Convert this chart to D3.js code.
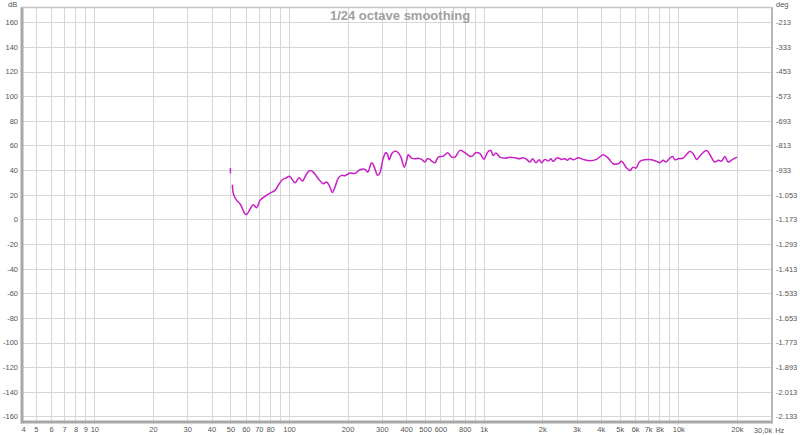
<!DOCTYPE html>
<html>
<head>
<meta charset="utf-8">
<script src="https://cdn.jsdelivr.net/npm/d3@7"></script>
<style>
  html, body { margin: 0; padding: 0; background: #ffffff; }
  svg { display: block; font-family: "Liberation Sans", Arial, sans-serif; }
</style>
</head>
<body>
<svg id="chart" width="800" height="435"></svg>
<script>
// ---- data ----
const title = "1/24 octave smoothing";
const xMin = 4.25, xMax = 30300;
const yMin = -164.5, yMax = 172;

const xGridValues = [5,6,7,8,9,10,20,30,40,50,60,70,80,90,100,200,300,400,500,600,700,800,900,
  1000,2000,3000,4000,5000,6000,7000,8000,9000,10000,20000];
const xTickValues = [4.25,5,6,7,8,9,10,20,30,40,50,60,70,80,100,200,300,400,500,600,800,
  1000,2000,3000,4000,5000,6000,7000,8000,10000,20000];
const xTickLabels = ["4","5","6","7","8","9","10","20","30","40","50","60","70","80","100","200","300","400","500","600","800",
  "1k","2k","3k","4k","5k","6k","7k","8k","10k","20k"];
const xLastTick = 30000, xLastLabel = "30,0k", xUnit = "Hz";

const yTickValues = [160,140,120,100,80,60,40,20,0,-20,-40,-60,-80,-100,-120,-140,-160];
const degTickLabels = ["-213","-333","-453","-573","-693","-813","-933","-1.053","-1.173","-1.293","-1.413",
  "-1.533","-1.653","-1.773","-1.893","-2.013","-2.133"];

// short isolated segment at 50 Hz
const seriesStart = [[50.0, 41.8], [50.05, 37.3]];
// main SPL curve (Hz, dB)
const seriesFreq = [51.2,51.8,53.9,56.0,57.2,59.4,60.6,63.0,65.5,68.2,71.0,75.3,79.9,84.8,88.1,92.4,97.3,100.3,103.2,107.4,
  112.6,117.1,123.3,128.2,133.3,141.4,150.1,156.2,162.4,166.9,172.3,179.2,186.6,193.9,205.8,218.3,231.6,245.7,253.7,266,
  274.3,285.5,293.4,302.9,313.8,319.8,327.5,337,350.4,364.3,376,391,402.3,410,426.8,443.8,461.4,480.3,499.4,513.2,
  530,540.7,562.2,584.6,620.2,653.3,684.9,712.2,755.6,801.5,850.4,873.8,909.7,957.2,1004,1056,1090,1120,1157,1213,
  1287,1365,1448,1523,1597,1663,1729,1785,1856,1930,1986,2065,2147,2216,2277,2388,2515,2616,2688,2775,
  2886,3062,3248,3516,3805,4115,4365,4631,4913,5115,5382,5642,5867,6057,6351,6739,7295,7738,8043,8362,
  8636,8981,9348,9605,9988,10598,11032,11470,11928,12417,13064,13975,14534,15417,16030,16688,17355,18045,19009,20070];
const seriesDb = [28.1,20.8,15.4,12.7,10.0,4.6,4.0,8.1,11.9,9.5,15.4,18.7,21.3,23.5,27.6,32.2,33.8,35.1,33.0,29.7,
  33.8,31.1,37.1,39.7,38.4,33.0,29.0,30.3,26.2,21.7,26.2,33.5,35.7,35.4,37.6,37.3,40.3,40.6,38.4,46.0,
  42.4,35.7,37.9,47.9,54.1,53.3,48.4,53.3,55.4,54.1,50.5,42.4,47.9,52.5,49.7,49.2,49.7,48.7,46.5,49.2,
  48.7,47.3,46.0,50.5,51.3,54.1,50.5,50.5,56.0,54.1,51.3,51.3,54.1,53.3,48.9,55.2,55.7,51.9,53.8,50.5,
  49.7,50.5,50.0,49.2,50.0,48.7,46.5,49.2,46.0,48.4,46.0,48.7,47.3,49.2,47.1,50.0,48.7,49.2,47.9,49.7,
  48.4,50.0,48.7,47.6,48.7,52.5,49.7,45.2,45.2,47.1,42.4,39.7,42.4,41.6,47.1,48.4,48.4,47.1,46.0,47.9,
  46.5,49.2,51.1,48.4,49.2,49.7,52.7,55.2,53.3,48.7,52.5,56.0,52.5,46.5,47.9,47.3,51.1,46.5,48.7,50.5];

// ---- drawing ----
const W = 800, H = 435;
const plot = { left: 22, right: 772, top: 7.5, bottom: 422 };
const svg = d3.select("#chart");
svg.append("rect").attr("width", W).attr("height", H).attr("fill", "#ffffff");

const x = d3.scaleLog().domain([xMin, xMax]).range([plot.left, plot.right]);
const y = d3.scaleLinear().domain([yMin, yMax]).range([plot.bottom, plot.top]);

const gridColor = "#d6d6d6";
const labelColor = "#555555";
const fontFam = "Liberation Sans, Arial, sans-serif";

// vertical grid
svg.append("g").selectAll("line").data(xGridValues).join("line")
  .attr("x1", d => Math.round(x(d)) + 0.5).attr("x2", d => Math.round(x(d)) + 0.5)
  .attr("y1", plot.top).attr("y2", plot.bottom)
  .attr("stroke", gridColor).attr("stroke-width", 1);

// horizontal grid
svg.append("g").selectAll("line").data(yTickValues).join("line")
  .attr("x1", plot.left).attr("x2", plot.right)
  .attr("y1", d => Math.round(y(d)) + 0.5).attr("y2", d => Math.round(y(d)) + 0.5)
  .attr("stroke", gridColor).attr("stroke-width", 1);

// border
svg.append("rect")
  .attr("x", plot.left).attr("y", plot.top)
  .attr("width", plot.right - plot.left).attr("height", plot.bottom - plot.top)
  .attr("fill", "none").attr("stroke", "#c4c4c4").attr("stroke-width", 1.5);
svg.append("line").attr("x1", plot.left).attr("x2", plot.left)
  .attr("y1", plot.top).attr("y2", plot.bottom + 1.5)
  .attr("stroke", "#a8a8a8").attr("stroke-width", 3);
svg.append("line").attr("x1", plot.left).attr("x2", plot.right + 1)
  .attr("y1", plot.bottom).attr("y2", plot.bottom)
  .attr("stroke", "#a8a8a8").attr("stroke-width", 3);
svg.append("line").attr("x1", plot.right).attr("x2", plot.right)
  .attr("y1", plot.top).attr("y2", plot.bottom)
  .attr("stroke", "#b8b8b8").attr("stroke-width", 2);

// left axis labels (dB)
const yAxisL = d3.axisLeft(y).tickValues(yTickValues).tickSize(0).tickPadding(3).tickFormat(d => String(d));
const gL = svg.append("g").attr("transform", `translate(${plot.left - 1},0)`).call(yAxisL);
gL.select(".domain").remove();
gL.selectAll("text").attr("font-size", 7.5).attr("fill", labelColor).attr("font-family", fontFam);

// right axis labels (deg)
const yAxisR = d3.axisRight(y).tickValues(yTickValues).tickSize(0).tickPadding(3)
  .tickFormat(d => degTickLabels[yTickValues.indexOf(d)]);
const gR = svg.append("g").attr("transform", `translate(${plot.right + 1},0)`).call(yAxisR);
gR.select(".domain").remove();
gR.selectAll("text").attr("font-size", 7.5).attr("fill", labelColor).attr("font-family", fontFam);

// bottom axis labels
const xAxis = d3.axisBottom(x).tickValues(xTickValues).tickSize(0).tickPadding(5)
  .tickFormat(d => xTickLabels[xTickValues.indexOf(d)]);
const gB = svg.append("g").attr("transform", `translate(0,${plot.bottom})`).call(xAxis);
gB.select(".domain").remove();
gB.selectAll("text").attr("font-size", 7.5).attr("fill", labelColor).attr("font-family", fontFam);
gB.selectAll(".tick").filter(d => d === xMin).select("text").attr("text-anchor", "start").attr("dx", -1);

svg.append("text").attr("x", x(xLastTick) + 1).attr("y", plot.bottom + 10.5)
  .attr("text-anchor", "end").attr("font-size", 7.5).attr("fill", labelColor)
  .attr("font-family", fontFam).text(xLastLabel);
svg.append("text").attr("x", x(xLastTick) + 4).attr("y", plot.bottom + 10.5)
  .attr("text-anchor", "start").attr("font-size", 7.5).attr("fill", labelColor)
  .attr("font-family", fontFam).text(xUnit);

// unit labels
svg.append("text").attr("x", 8).attr("y", 7).attr("font-size", 7.5).attr("fill", labelColor)
  .attr("font-family", fontFam).text("dB");
svg.append("text").attr("x", 776).attr("y", 7).attr("font-size", 7.5).attr("fill", labelColor)
  .attr("font-family", fontFam).text("deg");

// title
svg.append("text").attr("x", 400).attr("y", 20).attr("text-anchor", "middle")
  .attr("font-size", 13).attr("font-weight", "bold").attr("fill", "#a0a0a0")
  .attr("font-family", fontFam).text(title);

// curve
const mainData = seriesFreq.map((f, i) => [f, seriesDb[i]]);
const line = d3.line().x(d => x(d[0])).y(d => y(d[1])).curve(d3.curveCatmullRom.alpha(0.5));
const curveColor = "#c81ec8";
svg.append("path").datum(seriesStart).attr("d", line)
  .attr("fill", "none").attr("stroke", curveColor).attr("stroke-width", 1.4);
svg.append("path").datum(mainData).attr("d", line)
  .attr("fill", "none").attr("stroke", curveColor).attr("stroke-width", 1.5)
  .attr("stroke-linejoin", "round");
</script>
</body>
</html>
